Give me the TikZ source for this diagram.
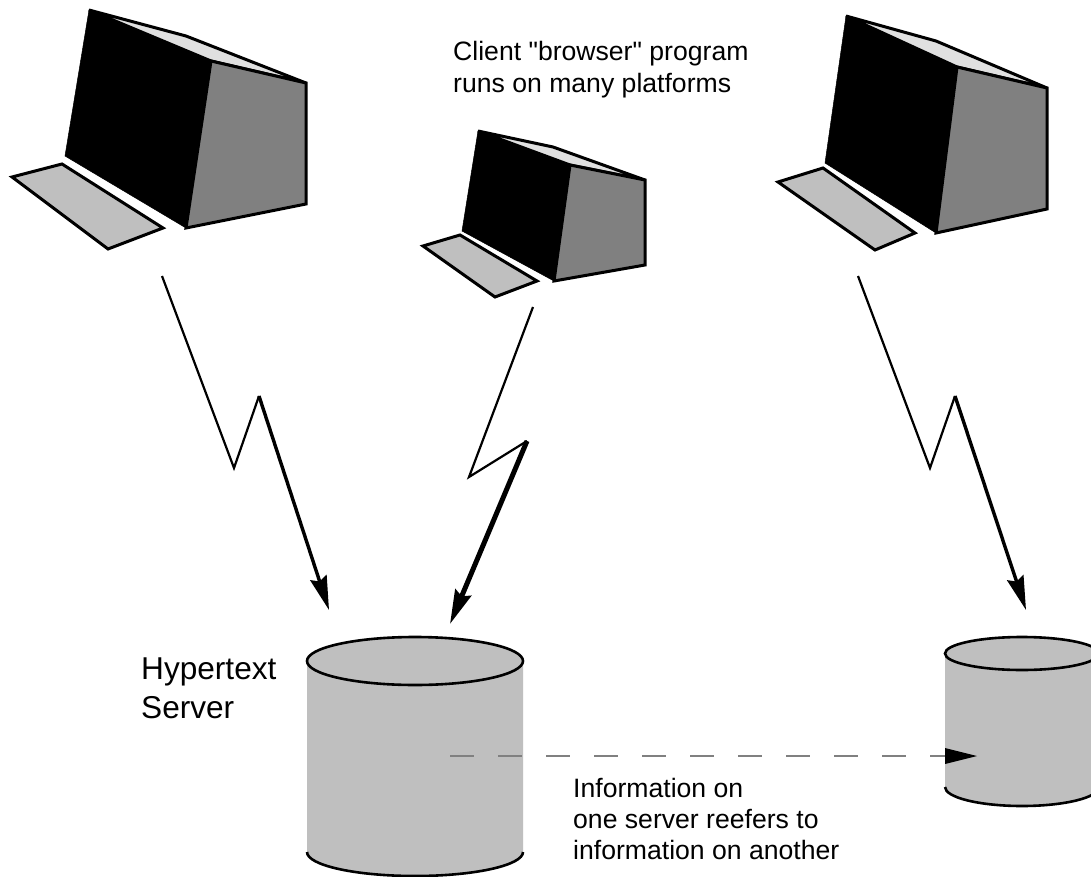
\documentclass[tikz,border=0pt]{standalone}
\usepackage{fontspec}
\setmainfont{Liberation Sans}
\newfontfamily\plainsans{Liberation Sans}
\usetikzlibrary{arrows.meta}
\definecolor{midgrey}{gray}{0.5}
\definecolor{lightgrey}{gray}{0.75}
\definecolor{palegrey}{gray}{0.88}
\tikzset{
  x=1pt,y=-1pt,
  outline/.style={draw=black,line width=3pt,line join=miter},
  front/.style={fill=black,draw=black,line width=0.5pt},
  sidepanel/.style={fill=midgrey,outline},
  roof/.style={fill=palegrey,outline},
  keyboard/.style={fill=lightgrey,outline},
  drum/.style={fill=lightgrey},
  rim/.style={draw=black,line width=2.6pt},
  bolt/.style={line width=2.2pt,line join=miter},
  boltend/.style={line width=3.4pt,-{Stealth[length=34pt,width=17pt,inset=4pt]}},
  linklink/.style={draw=midgrey,line width=2pt,dash pattern=on 24pt off 24pt},
  caption/.style={font=\plainsans\fontsize{26.6}{31}\selectfont,align=left,anchor=north west,inner sep=0pt},
  bigcaption/.style={font=\plainsans\fontsize{31.6}{38.5}\selectfont,align=left,anchor=north west,inner sep=0pt}
}
\begin{document}
\begin{tikzpicture}
\useasboundingbox (0,0) rectangle (1091,877);
\fill[white] (0,0) rectangle (1091,877);
% computer 1
\coordinate (a1) at (89,10); \coordinate (a2) at (186,36); \coordinate (a3) at (306,83);
\coordinate (a4) at (211,61); \coordinate (a5) at (186,228); \coordinate (a6) at (306,204);
\coordinate (a7) at (65,156);
\draw[roof] (a1) -- (a2) -- (a3) -- (a4) -- cycle;
\draw[sidepanel] (a4) -- (a3) -- (a6) -- (a5) -- cycle;
\draw[front] (a1) -- (a4) -- (a5) -- (a7) -- cycle;
\draw[keyboard] (12,177) -- (62,164) -- (163,228) -- (108,249) -- cycle;
% computer 2
\coordinate (b1) at (478,131); \coordinate (b2) at (553,147); \coordinate (b3) at (645,180);
\coordinate (b4) at (570,165); \coordinate (b5) at (554,281); \coordinate (b6) at (645,265);
\coordinate (b7) at (462,231);
\draw[roof] (b1) -- (b2) -- (b3) -- (b4) -- cycle;
\draw[sidepanel] (b4) -- (b3) -- (b6) -- (b5) -- cycle;
\draw[front] (b1) -- (b4) -- (b5) -- (b7) -- cycle;
\draw[keyboard] (423,246) -- (460,235) -- (537,281) -- (495,297) -- cycle;
% computer 3
\coordinate (c1) at (846,16); \coordinate (c2) at (936,41); \coordinate (c3) at (1047,88);
\coordinate (c4) at (957,67); \coordinate (c5) at (936,233); \coordinate (c6) at (1047,209);
\coordinate (c7) at (825,163);
\draw[roof] (c1) -- (c2) -- (c3) -- (c4) -- cycle;
\draw[sidepanel] (c4) -- (c3) -- (c6) -- (c5) -- cycle;
\draw[front] (c1) -- (c4) -- (c5) -- (c7) -- cycle;
\draw[keyboard] (778,182) -- (823,168) -- (915,233) -- (875,250) -- cycle;
% cylinder 1
\fill[drum] (307,661) -- (307,852) arc[start angle=180,end angle=0,x radius=108,y radius=24] -- (523,661) -- cycle;
\draw[rim] (307,852) arc[start angle=180,end angle=0,x radius=108,y radius=24];
\draw[rim,fill=lightgrey] (415,661) ellipse[x radius=108,y radius=24];
% cylinder 2
\fill[drum] (945,653.5) -- (945,787) arc[start angle=180,end angle=0,x radius=77,y radius=19] -- (1099,653.5) -- cycle;
\draw[rim] (945,787) arc[start angle=180,end angle=0,x radius=77,y radius=19];
\draw[rim,fill=lightgrey] (1022,653.5) ellipse[x radius=77,y radius=16.5];
% bolts
\coordinate (p0) at (162,276); \coordinate (p1) at (234,468); \coordinate (p2) at (259,396); \coordinate (p3) at (329,610);
\draw[bolt] (p0) -- (p1) -- (p2);
\draw[boltend] (p2) -- (p3);
\coordinate (q0) at (533,307); \coordinate (q1) at (469,477); \coordinate (q2) at (527,441); \coordinate (q3) at (450,624);
\draw[bolt] (q0) -- (q1) -- (q2);
\draw[boltend,line width=5pt] (q2) -- (q3);
\coordinate (r0) at (858,276); \coordinate (r1) at (930,468); \coordinate (r2) at (955,396); \coordinate (r3) at (1026,610);
\draw[bolt] (r0) -- (r1) -- (r2);
\draw[boltend] (r2) -- (r3);
% link
\coordinate (s0) at (450,756); \coordinate (s1) at (945,756); \coordinate (s2) at (977,756);
\draw[linklink] (s0) -- (s1);
\fill[black] (s2) -- (945,764) -- (945,748) -- cycle;
% text
\node[caption,font=\plainsans\fontsize{26.6}{32}\selectfont] (t1) at (453,40.6) {Client "browser" program\\runs on many platforms};
\node[bigcaption] (t2) at (141,658) {Hypertext\\Server};
\node[caption] (t3) at (573,777.6) {Information on\\one server reefers to\\information on another};
\end{tikzpicture}
\end{document}
